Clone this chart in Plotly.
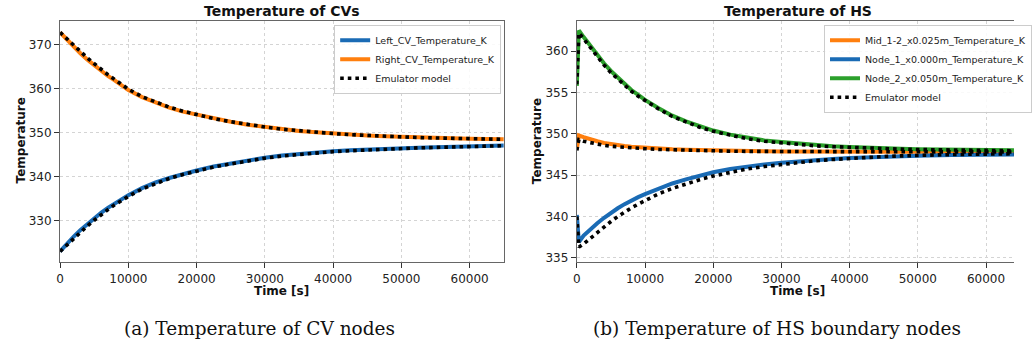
import plotly.graph_objects as go

# ---------------- data: left panel (CVs) ----------------
t_cv = [0, 1000, 2000, 3000, 4000, 5000, 6000, 7000, 8000, 9000, 10000, 12000, 14000,
        16000, 18000, 20000, 22500, 25000, 27500, 30000, 32500, 35000, 37500, 40000,
        42500, 45000, 47500, 50000, 52500, 55000, 57500, 60000, 62500, 65000]
left_cv = [323.0, 324.8, 326.4, 327.9, 329.3, 330.6, 331.8, 332.9, 333.9, 334.9, 335.8,
           337.4, 338.7, 339.7, 340.6, 341.4, 342.3, 343.0, 343.7, 344.3, 344.8, 345.2,
           345.5, 345.8, 346.0, 346.2, 346.4, 346.5, 346.6, 346.7, 346.8, 346.9, 347.0, 347.1]
right_cv = [372.8, 371.1, 369.5, 368.0, 366.6, 365.3, 364.1, 362.9, 361.9, 360.8, 359.7,
            358.1, 356.8, 355.7, 354.8, 354.1, 353.2, 352.5, 351.8, 351.3, 350.8, 350.4,
            350.1, 349.8, 349.55, 349.35, 349.2, 349.05, 348.9, 348.8, 348.7, 348.6, 348.55, 348.5]
emu_left_cv = [323.0, 324.5, 326.0, 327.4, 328.8, 330.1, 331.4, 332.5, 333.6, 334.6, 335.5,
               337.2, 338.5, 339.6, 340.5, 341.3, 342.2, 342.9, 343.6, 344.2, 344.7, 345.1,
               345.4, 345.7, 345.9, 346.1, 346.3, 346.45, 346.55, 346.65, 346.75, 346.85, 346.95, 347.05]
emu_right_cv = [372.8, 371.3, 369.8, 368.4, 367.0, 365.7, 364.4, 363.2, 362.1, 361.0, 359.9,
                358.2, 356.9, 355.8, 354.9, 354.1, 353.2, 352.5, 351.8, 351.3, 350.8, 350.4,
                350.1, 349.8, 349.55, 349.35, 349.2, 349.05, 348.9, 348.8, 348.7, 348.6, 348.55, 348.5]

# ---------------- data: right panel (HS) ----------------
t_hs = [0, 300, 1000, 2000, 3000, 4000, 5000, 6000, 7000, 8000, 9000, 10000, 12000, 14000,
        16000, 18000, 20000, 22500, 25000, 27500, 30000, 32500, 35000, 37500, 40000,
        42500, 45000, 47500, 50000, 55000, 60000, 65000]
mid_hs = [348.1, 349.8, 349.6, 349.3, 349.1, 348.9, 348.75, 348.62, 348.52, 348.44, 348.37,
          348.31, 348.21, 348.13, 348.07, 348.02, 347.98, 347.94, 347.91, 347.89, 347.87, 347.86,
          347.85, 347.84, 347.83, 347.82, 347.82, 347.81, 347.81, 347.8, 347.8, 347.8]
node1_hs = [340.2, 336.9, 337.7, 338.5, 339.2, 339.85, 340.45, 341.0, 341.5, 341.95, 342.35,
            342.7, 343.4, 344.0, 344.5, 344.95, 345.35, 345.75, 346.05, 346.3, 346.5, 346.68,
            346.83, 346.96, 347.07, 347.16, 347.24, 347.3, 347.35, 347.43, 347.48, 347.52]
node2_hs = [355.8, 362.5, 361.7, 360.6, 359.5, 358.5, 357.6, 356.8, 356.0, 355.3, 354.7,
            354.1, 353.1, 352.2, 351.5, 350.9, 350.4, 349.9, 349.5, 349.2, 349.0, 348.8,
            348.65, 348.5, 348.4, 348.3, 348.25, 348.2, 348.15, 348.1, 348.05, 348.0]
emu_mid_hs = [348.0, 349.3, 349.1, 348.9, 348.72, 348.6, 348.5, 348.42, 348.36, 348.3, 348.25,
              348.2, 348.12, 348.06, 348.01, 347.97, 347.93, 347.9, 347.88, 347.87, 347.86, 347.85,
              347.85, 347.84, 347.84, 347.83, 347.83, 347.82, 347.82, 347.82, 347.81, 347.8]
emu_node1_hs = [340.0, 336.3, 336.7, 337.4, 338.1, 338.75, 339.4, 340.0, 340.55, 341.05, 341.5,
                341.95, 342.75, 343.4, 343.95, 344.45, 344.9, 345.35, 345.75, 346.05, 346.3, 346.55,
                346.75, 346.9, 347.05, 347.15, 347.25, 347.33, 347.4, 347.5, 347.55, 347.6]
emu_node2_hs = [356.0, 362.2, 361.5, 360.4, 359.3, 358.3, 357.4, 356.6, 355.85, 355.15, 354.55,
                354.0, 353.0, 352.1, 351.4, 350.8, 350.3, 349.8, 349.4, 349.1, 348.9, 348.7,
                348.55, 348.45, 348.35, 348.27, 348.2, 348.15, 348.1, 348.05, 348.0, 347.95]

left_title = "Temperature of CVs"
right_title = "Temperature of HS"
x_label = "Time [s]"
y_label = "Temperature"
caption_a = "(a) Temperature of CV nodes"
caption_b = "(b) Temperature of HS boundary nodes"

BLUE = "#1a6bb5"
ORANGE = "#ff7f0e"
GREEN = "#2ca02c"
W, H = 1032, 350

fig = go.Figure()
LW = 4
DW = 3.6
DOT = "3.6px,4px"

# left panel
fig.add_trace(go.Scatter(x=t_cv, y=left_cv, mode="lines", name="Left_CV_Temperature_K",
                         line=dict(color=BLUE, width=LW), xaxis="x", yaxis="y", legend="legend"))
fig.add_trace(go.Scatter(x=t_cv, y=right_cv, mode="lines", name="Right_CV_Temperature_K",
                         line=dict(color=ORANGE, width=LW), xaxis="x", yaxis="y", legend="legend"))
fig.add_trace(go.Scatter(x=t_cv, y=emu_left_cv, mode="lines", name="Emulator model",
                         line=dict(color="black", width=DW, dash=DOT), xaxis="x", yaxis="y",
                         legend="legend"))
fig.add_trace(go.Scatter(x=t_cv, y=emu_right_cv, mode="lines", name="Emulator model",
                         line=dict(color="black", width=DW, dash=DOT), xaxis="x", yaxis="y",
                         legend="legend", showlegend=False))

# right panel
fig.add_trace(go.Scatter(x=t_hs, y=mid_hs, mode="lines", name="Mid_1-2_x0.025m_Temperature_K",
                         line=dict(color=ORANGE, width=LW), xaxis="x2", yaxis="y2", legend="legend2"))
fig.add_trace(go.Scatter(x=t_hs, y=node1_hs, mode="lines", name="Node_1_x0.000m_Temperature_K",
                         line=dict(color=BLUE, width=LW), xaxis="x2", yaxis="y2", legend="legend2"))
fig.add_trace(go.Scatter(x=t_hs, y=node2_hs, mode="lines", name="Node_2_x0.050m_Temperature_K",
                         line=dict(color=GREEN, width=LW), xaxis="x2", yaxis="y2", legend="legend2"))
for i, arr in enumerate([emu_mid_hs, emu_node1_hs, emu_node2_hs]):
    fig.add_trace(go.Scatter(x=t_hs, y=arr, mode="lines", name="Emulator model",
                             line=dict(color="black", width=DW, dash=DOT), xaxis="x2", yaxis="y2",
                             legend="legend2", showlegend=(i == 0)))

FONT = "DejaVu Sans"
common = dict(showline=True, linecolor="#666666", linewidth=1.2, ticks="outside", ticklen=5,
              tickwidth=1.2, tickcolor="#333333", showgrid=True, gridcolor="#d4d4d4",
              griddash="dot", gridwidth=1, zeroline=False, tickformat="d",
              tickfont=dict(family=FONT, size=12, color="#222222"))

ydom = [1 - 264.3 / H, 1 - 20.7 / H]
fig.update_layout(
    width=W, height=H, margin=dict(l=0, r=0, t=0, b=0),
    paper_bgcolor="white", plot_bgcolor="white",
    font=dict(family=FONT, color="#111111"),
    xaxis=dict(domain=[57.3 / W, 510.7 / W], range=[0, 65000], dtick=10000, mirror=True,
               anchor="y", **common),
    yaxis=dict(domain=ydom, range=[320.6, 375.5], dtick=10, mirror=True, anchor="x", **common),
    xaxis2=dict(domain=[585.3 / W, 1.0], range=[0, 64100], dtick=10000, mirror=True,
                anchor="y2", **common),
    yaxis2=dict(domain=ydom, range=[334.5, 363.7], dtick=5, mirror=False, anchor="x2", **common),
    legend=dict(x=508 / W, y=1 - 25 / H, xanchor="right", yanchor="top",
                bgcolor="rgba(255,255,255,0.85)", bordercolor="#cccccc", borderwidth=1,
                font=dict(family=FONT, size=9.5, color="#222222")),
    legend2=dict(x=838 / W, y=1 - 25 / H, xanchor="left", yanchor="top",
                 bgcolor="rgba(255,255,255,0.85)", bordercolor="#cccccc", borderwidth=1,
                 font=dict(family=FONT, size=9.5, color="#222222")),
)

ann = []
def add_text(text, x, y, size, bold=False, family=FONT, angle=0):
    ann.append(dict(text=("<b>%s</b>" % text) if bold else text, x=x / W, y=1 - y / H,
                    xref="paper", yref="paper", showarrow=False, textangle=angle,
                    xanchor="center", yanchor="middle",
                    font=dict(family=family, size=size, color="#111111")))

add_text(left_title, 284, 11, 14, bold=True)
add_text(right_title, 811, 11, 14, bold=True)
add_text(x_label, 284, 294, 12, bold=True)
add_text(x_label, 811, 294, 12, bold=True)
add_text(y_label, 17, 142, 12, bold=True, angle=-90)
add_text(y_label, 544, 142, 12, bold=True, angle=-90)
add_text(caption_a, 261, 331, 18.5, family="DejaVu Serif")
add_text(caption_b, 790, 331, 18.5, family="DejaVu Serif")
fig.update_layout(annotations=ann)

fig.write_html("out.html")
